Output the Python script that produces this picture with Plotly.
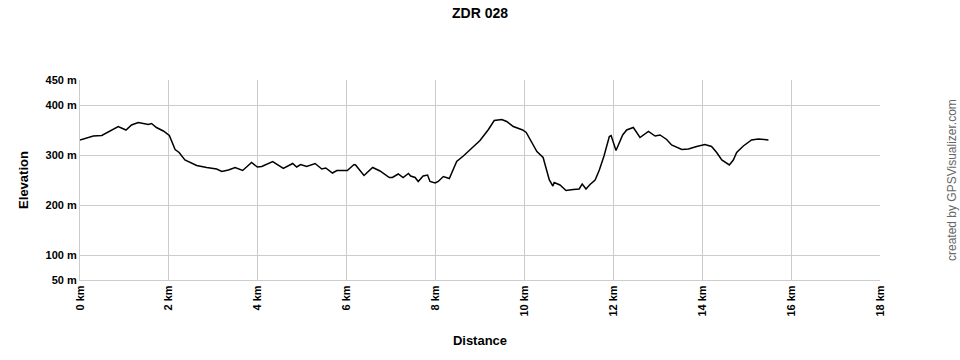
import plotly.graph_objects as go

distance_km = [0.0, 0.3, 0.49, 0.675, 0.86, 1.035, 1.16, 1.31, 1.43, 1.54, 1.61, 1.72, 1.875,
               2.01, 2.14, 2.23, 2.36, 2.625, 2.85, 3.075, 3.19, 3.34, 3.49, 3.66, 3.86, 3.99,
               4.09, 4.335, 4.575, 4.785, 4.875, 4.965, 5.1, 5.29, 5.44, 5.53, 5.68, 5.78,
               6.015, 6.165, 6.2, 6.39, 6.585, 6.75, 6.96, 7.03, 7.16, 7.27, 7.39, 7.44, 7.54,
               7.61, 7.72, 7.82, 7.875, 7.99, 8.06, 8.175, 8.31, 8.475, 8.625, 8.775, 9.0,
               9.19, 9.32, 9.49, 9.6, 9.75, 9.96, 10.04, 10.28, 10.42, 10.56, 10.64, 10.67,
               10.8, 10.935, 11.1, 11.23, 11.3, 11.385, 11.475, 11.59, 11.685, 11.79, 11.91,
               11.95, 12.06, 12.21, 12.3, 12.45, 12.6, 12.79, 12.94, 13.05, 13.2, 13.31,
               13.54, 13.69, 13.875, 14.06, 14.21, 14.325, 14.44, 14.61, 14.7, 14.775,
               14.925, 15.11, 15.26, 15.49]
elevation_m = [330, 338, 339, 348, 357, 350, 360, 365, 363, 361, 363, 355, 348,
               339, 311, 305, 290, 279, 275, 272, 267, 270, 275, 269, 285, 276,
               277, 287, 273, 283, 276, 281, 277, 283, 272, 274, 264, 269,
               269, 281, 280, 259, 275, 268, 255, 255, 262, 255, 263, 258, 255,
               247, 258, 260, 247, 244, 247, 257, 253, 287, 298, 310, 329,
               351, 369, 371, 367, 357, 350, 345, 307, 295, 250, 238, 245,
               240, 229, 231, 232, 242, 232, 241, 250, 270, 298, 337,
               339, 309, 340, 350, 355, 335, 347, 338, 340, 331, 320,
               311, 312, 317, 321, 317, 305, 290, 280, 290, 305,
               318, 330, 332, 330]

y_ticks = [50, 100, 200, 300, 400, 450]
y_tick_labels = ["50 m", "100 m", "200 m", "300 m", "400 m", "450 m"]
x_ticks = [0, 2, 4, 6, 8, 10, 12, 14, 16, 18]
x_tick_labels = [f"{v} km" for v in x_ticks]

FONT = "Arial, 'Liberation Sans', sans-serif"

fig = go.Figure()
fig.add_trace(go.Scatter(x=distance_km, y=elevation_m, mode="lines",
                         line=dict(color="black", width=1.5), showlegend=False))

fig.update_layout(
    width=960, height=360,
    margin=dict(l=80, r=80, t=80, b=80),
    paper_bgcolor="white", plot_bgcolor="white",
    title=dict(text="<b>ZDR 028</b>", x=0.5, xanchor="center", y=1 - 13 / 360, yanchor="middle",
               font=dict(family=FONT, size=14, color="black")),
    xaxis=dict(range=[0, 18], tickvals=x_ticks, ticktext=x_tick_labels, tickangle=-90,
               showgrid=True, gridcolor="#cccccc", gridwidth=1, zeroline=False,
               showline=True, linecolor="#cccccc", linewidth=1, mirror=False,
               ticks="", tickfont=dict(family=FONT, size=11, color="black", weight="bold"),
               title=dict(text="<b>Distance</b>", font=dict(family=FONT, size=13, color="black"),
                          standoff=20)),
    yaxis=dict(range=[50, 450], tickvals=y_ticks, ticktext=y_tick_labels,
               showgrid=True, gridcolor="#cccccc", gridwidth=1, zeroline=False,
               showline=True, linecolor="#cccccc", linewidth=1,
               ticks="", tickfont=dict(family=FONT, size=11, color="black", weight="bold"),
               title=dict(text="<b>Elevation</b>", font=dict(family=FONT, size=13, color="black"),
                          standoff=14)),
)

fig.add_annotation(text="created by GPSVisualizer.com", xref="paper", yref="paper",
                   x=(952 - 80) / 800, y=0.5, xanchor="center", yanchor="middle",
                   textangle=-90, showarrow=False,
                   font=dict(family=FONT, size=12, color="#666666"))

fig.write_html("out.html")
